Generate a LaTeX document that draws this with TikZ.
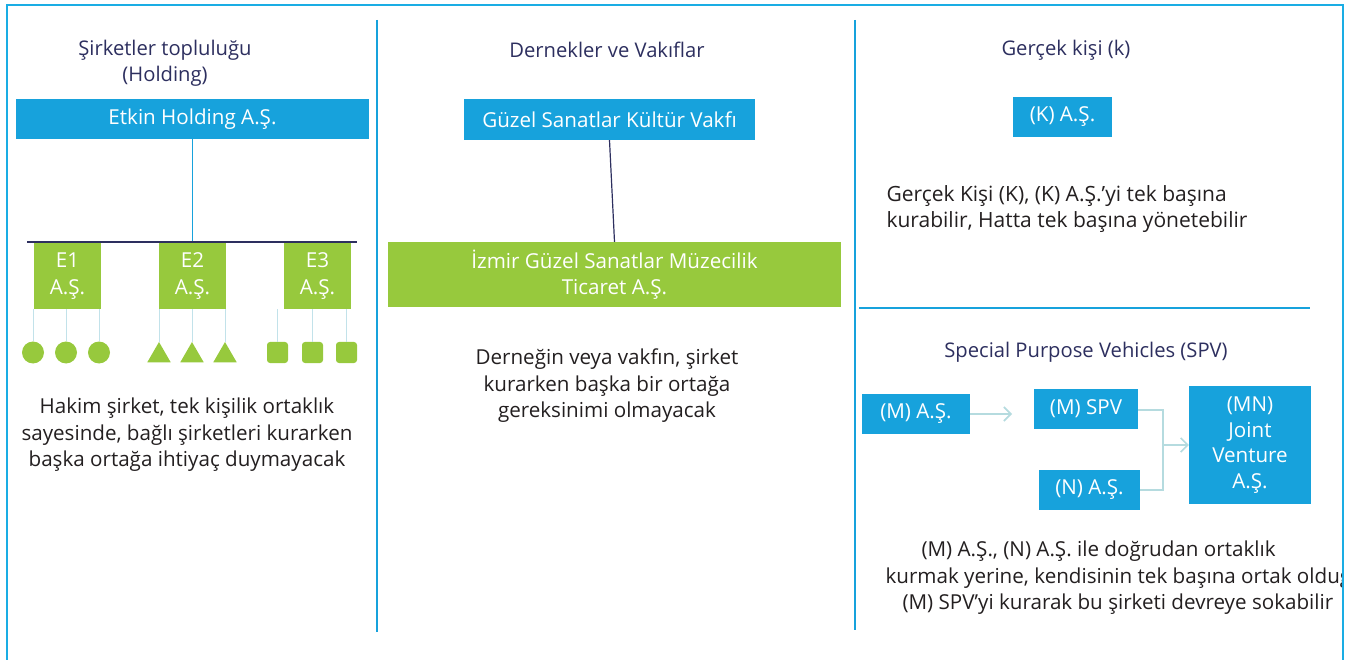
\documentclass[tikz,border=0pt]{standalone}
\usepackage{fontspec}
\setmainfont{Open Sans}
\usetikzlibrary{shapes.geometric,arrows.meta}
\definecolor{frameblue}{HTML}{1AADE4}
\definecolor{boxblue}{HTML}{17A2DC}
\definecolor{boxgreen}{HTML}{97C93D}
\definecolor{navy}{HTML}{2D2F5F}
\definecolor{bodytxt}{HTML}{231F20}
\definecolor{thinline}{HTML}{C2E2EA}
\definecolor{arrowc}{HTML}{B5DBDF}
\tikzset{
  bluebox/.style={fill=boxblue,text=white,inner sep=0pt,font=\fontsize{20.6}{25.5}\selectfont,align=center},
  greenbox/.style={fill=boxgreen,text=white,inner sep=0pt,font=\fontsize{20.6}{26.5}\selectfont,align=center},
  heading/.style={text=navy,font=\fontsize{20.2}{26}\selectfont,align=center},
  body/.style={text=bodytxt,font=\fontsize{20.6}{26.5}\selectfont,align=center},
  divider/.style={draw=boxblue,line width=1.6pt},
  thin/.style={draw=thinline,line width=1pt},
  navyline/.style={draw=navy,line width=1.2pt},
  leaf/.style={fill=boxgreen,inner sep=0pt},
  spvline/.style={draw=arrowc,line width=1.6pt},
  spvarrow/.style={spvline,-{Straight Barb[length=7pt,width=14pt,line width=1.6pt]}}
}
\begin{document}
\begin{tikzpicture}[x=1pt,y=-1pt]
\useasboundingbox (0,0) rectangle (1355,660);
% outer frame
\draw[draw=frameblue,line width=2pt] (7,660) -- (7,5) -- (1343,5) -- (1343,660);
\draw[divider] (377,20) -- (377,632);
\draw[divider] (855,20) -- (855,630);
\draw[draw=boxblue,line width=1.4pt] (859,308) -- (1310,308);

% ---- left column
\node[heading] (t1) at (165,63) {Şirketler topluluğu\\(Holding)};
\node[bluebox,minimum width=353pt,minimum height=40pt] (hold) at (192.5,119) {Etkin Holding A.Ş.};
\coordinate (bj) at (192.5,242);
\coordinate (bl) at (27,242);
\coordinate (br) at (357,242);
\draw[draw=boxblue,line width=1.4pt] (hold.south) -- (bj);
\draw[navyline] (bl) -- (br);
\node[greenbox,minimum width=67pt,minimum height=66pt] (e1) at (67.5,276) {E1\\A.Ş.};
\node[greenbox,minimum width=67pt,minimum height=66pt] (e2) at (192.5,276) {E2\\A.Ş.};
\node[greenbox,minimum width=67pt,minimum height=66pt] (e3) at (317.5,276) {E3\\A.Ş.};

\node[leaf,circle,minimum size=22pt] (c1) at (33,352.5) {};
\node[leaf,circle,minimum size=22pt] (c2) at (66,352.5) {};
\node[leaf,circle,minimum size=22pt] (c3) at (99,352.5) {};
\node[leaf,regular polygon,regular polygon sides=3,minimum size=27pt] (r1) at (159,355.5) {};
\node[leaf,regular polygon,regular polygon sides=3,minimum size=27pt] (r2) at (192,355.5) {};
\node[leaf,regular polygon,regular polygon sides=3,minimum size=27pt] (r3) at (225,355.5) {};
\node[leaf,rectangle,rounded corners=3pt,minimum size=21pt] (s1) at (277.5,352.5) {};
\node[leaf,rectangle,rounded corners=3pt,minimum size=21pt] (s2) at (312.5,352.5) {};
\node[leaf,rectangle,rounded corners=3pt,minimum size=21pt] (s3) at (346.5,352.5) {};
\foreach \n in {c1,c2,c3}{\draw[thin] (\n.north |- e1.south) -- (\n.north);}
\foreach \n in {r1,r2,r3}{\draw[thin] (\n.north |- e2.south) -- (\n.north);}
\foreach \n in {s1,s2,s3}{\draw[thin] (\n.north |- e3.south) -- (\n.north);}

\node[body] (d1) at (187,435) {Hakim şirket, tek kişilik ortaklık\\sayesinde, bağlı şirketleri kurarken\\başka ortağa ihtiyaç duymayacak};

% ---- middle column
\node[heading] (t2) at (607,50) {Dernekler ve Vakıflar};
\node[bluebox,minimum width=291pt,minimum height=41pt] (vakif) at (609.5,119.5) {Güzel Sanatlar Kültür Vakfı};
\node[greenbox,minimum width=453pt,minimum height=65pt] (izmir) at (614.5,274.5) {İzmir Güzel Sanatlar Müzecilik\\Ticaret A.Ş.};
\draw[navyline] (vakif.south) -- (izmir.north);
\node[body] (d2) at (607,386) {Derneğin veya vakfın, şirket\\kurarken başka bir ortağa\\gereksinimi olmayacak};

% ---- right column
\node[heading] (t3) at (1066,50) {Gerçek kişi (k)};
\node[bluebox,minimum width=99pt,minimum height=40pt] (kas) at (1062.5,117) {(K) A.Ş.};
\node[body,align=left,anchor=west,font=\fontsize{21}{26.5}\selectfont] (d3) at (883,209) {Gerçek Kişi (K), (K) A.Ş.’yi tek başına\\kurabilir, Hatta tek başına yönetebilir};

\node[heading] (t4) at (1086,352) {Special Purpose Vehicles (SPV)};
\node[bluebox,minimum width=108pt,minimum height=40pt] (mas) at (916,414) {(M) A.Ş.};
\node[bluebox,minimum width=104pt,minimum height=40pt] (mspv) at (1086,409) {(M) SPV};
\node[bluebox,minimum width=101pt,minimum height=40pt] (nas) at (1089.5,490) {(N) A.Ş.};
\node[bluebox,minimum width=122pt,minimum height=118pt] (jv) at (1250,445) {(MN)\\Joint\\Venture\\A.Ş.};
\coordinate (mtip) at (1012,414);
\coordinate (jt) at (1163,410);
\coordinate (jb) at (1163,490);
\coordinate (jm) at (1163,445);
\draw[spvarrow] (mas.east) -- (mtip);
\draw[spvline] (mspv.east |- jt) -- (jt) -- (jb) -- (nas.east |- jb);
\draw[spvarrow] (jm) -- (jv.west);

\node[body,anchor=west] (d4a) at (918,551) {(M) A.Ş., (N) A.Ş. ile doğrudan ortaklık};
\begin{scope}
\clip (859,560) rectangle (1341,600);
\node[body,anchor=west] (d4b) at (882,578) {kurmak yerine, kendisinin tek başına ortak olduğu};
\end{scope}
\node[body,anchor=west] (d4c) at (899,604) {(M) SPV’yi kurarak bu şirketi devreye sokabilir};
\end{tikzpicture}
\end{document}
